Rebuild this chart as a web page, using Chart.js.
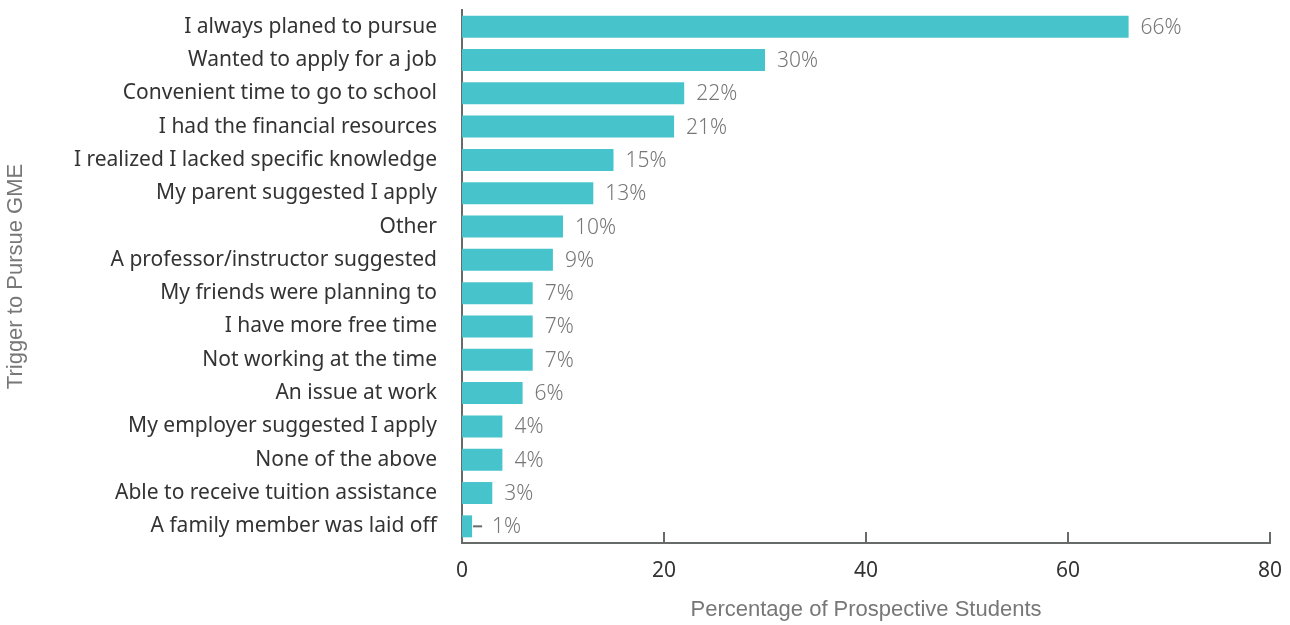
<!DOCTYPE html>
<html>
<head>
<meta charset="utf-8">
<script src="https://cdn.jsdelivr.net/npm/chart.js@4.4.1/dist/chart.umd.min.js"></script>
<style>
  html, body { margin: 0; padding: 0; background: #fff; }
  canvas { display: block; }
</style>
</head>
<body>
<canvas id="trigger-chart" width="1290" height="625"></canvas>
<script>
// Triggers that led prospective students to pursue GME (% of respondents)
const triggers = [
	'I always planed to pursue',
	'Wanted to apply for a job',
	'Convenient time to go to school',
	'I had the financial resources',
	'I realized I lacked specific knowledge',
	'My parent suggested I apply',
	'Other',
	'A professor/instructor suggested',
	'My friends were planning to',
	'I have more free time',
	'Not working at the time',
	'An issue at work',
	'My employer suggested I apply',
	'None of the above',
	'Able to receive tuition assistance',
	'A family member was laid off',
];
const shares = [66, 30, 22, 21, 15, 13, 10, 9, 7, 7, 7, 6, 4, 4, 3, 1];
const xTicks = [0, 20, 40, 60, 80];

const barColor = '#47c3cc';
const axisColor = '#666a68';
const labelFont = "'Noto Sans', sans-serif";
const titleFont = "'Liberation Sans', Arial, sans-serif";

// value labels at the end of each bar, with a short leader for tiny bars
const valueLabels = {
	id: 'valueLabels',
	afterDatasetsDraw(chart) {
		const ctx = chart.ctx;
		const meta = chart.getDatasetMeta(0);
		ctx.save();
		ctx.font = "300 21px 'Noto Sans', sans-serif";
		ctx.fillStyle = '#777';
		ctx.textBaseline = 'middle';
		ctx.textAlign = 'left';
		meta.data.forEach((bar, i) => {
			let x = bar.x + 12;
			if (shares[i] < 2) {
				ctx.strokeStyle = axisColor;
				ctx.lineWidth = 2;
				ctx.beginPath();
				ctx.moveTo(bar.x + 1, bar.y);
				ctx.lineTo(bar.x + 10, bar.y);
				ctx.stroke();
				x = bar.x + 20;
			}
			ctx.fillText(shares[i] + '%', x, bar.y + 1);
		});
		ctx.restore();
	},
};

// short tick marks rising from the bottom axis
const innerTicks = {
	id: 'innerTicks',
	afterDraw(chart) {
		const ctx = chart.ctx;
		const xs = chart.scales.x;
		const bottom = chart.chartArea.bottom;
		ctx.save();
		ctx.strokeStyle = axisColor;
		ctx.lineWidth = 2;
		xTicks.slice(1).forEach((v) => {
			const px = Math.round(xs.getPixelForValue(v));
			ctx.beginPath();
			ctx.moveTo(px, bottom + 1);
			ctx.lineTo(px, bottom - 11);
			ctx.stroke();
		});
		ctx.restore();
	},
};

new Chart(document.getElementById('trigger-chart'), {
	type: 'bar',
	data: {
		labels: triggers,
		datasets: [
			{
				data: shares,
				backgroundColor: barColor,
				borderWidth: 0,
				categoryPercentage: 1,
				barPercentage: 0.66,
			},
		],
	},
	options: {
		indexAxis: 'y',
		responsive: false,
		devicePixelRatio: 1,
		animation: false,
		layout: {padding: {top: 10, right: 20, left: 0, bottom: 0}},
		plugins: {
			legend: {display: false},
			tooltip: {enabled: false},
		},
		scales: {
			x: {
				min: 0,
				max: 80,
				afterBuildTicks(scale) {
					scale.ticks = xTicks.map((v) => ({value: v}));
				},
				afterFit(scale) {
					scale.height = 82;
					scale.paddingLeft = 0;
					scale.paddingRight = 0;
				},
				grid: {display: false, drawTicks: false},
				border: {display: true, color: axisColor, width: 2},
				ticks: {
					color: '#333',
					font: {family: labelFont, size: 21},
					padding: 15,
				},
				title: {
					display: true,
					text: 'Percentage of Prospective Students',
					color: '#777',
					font: {family: titleFont, size: 22},
					padding: {top: 0, bottom: 2},
				},
			},
			y: {
				afterFit(scale) {
					scale.width = 462;
					scale.paddingTop = 0;
					scale.paddingBottom = 0;
				},
				grid: {display: false, drawTicks: false},
				border: {display: true, color: axisColor, width: 2},
				ticks: {
					color: '#333',
					font: {family: labelFont, size: 21},
					padding: 25,
					autoSkip: false,
				},
				title: {
					display: true,
					text: 'Trigger to Pursue GME',
					color: '#777',
					font: {family: titleFont, size: 22},
					padding: {top: 3, bottom: 0},
				},
			},
		},
	},
	plugins: [valueLabels, innerTicks],
});
</script>
</body>
</html>
